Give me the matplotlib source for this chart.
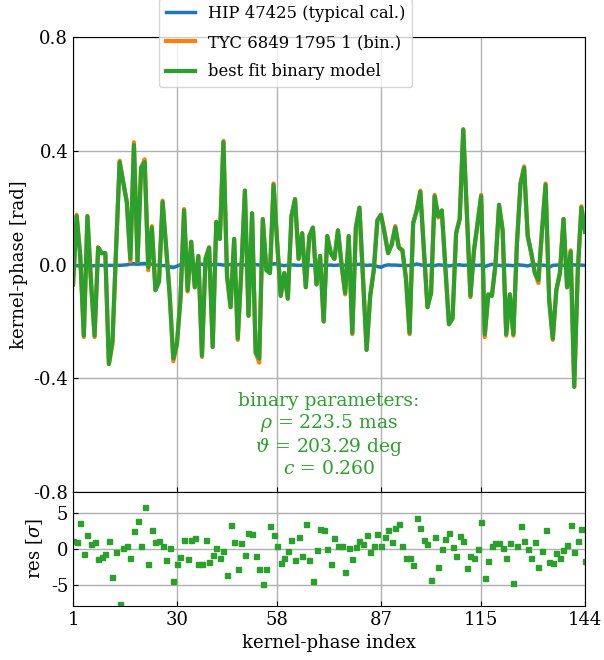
"""
Kernel-phase signal of a binary vs. a typical calibrator,
with the best fit binary model and its residuals
"""
import numpy as np
import matplotlib
matplotlib.use("Agg")
import matplotlib.pyplot as plt

plt.rcParams["font.family"] = "DejaVu Serif"
plt.rcParams["mathtext.fontset"] = "dejavuserif"
plt.rcParams["axes.unicode_minus"] = False
plt.rcParams["font.size"] = 13

# calibrator kernel phases [rad]
kp_cal = [
    0.000, -0.004, -0.005, -0.004, -0.004, -0.005, -0.004, -0.003, -0.003, -0.004, -0.003, -0.003,
    -0.002, -0.003, -0.002, -0.001, 0.002, 0.003, 0.001, 0.003, 0.004, -0.001, 0.002, -0.003,
    -0.002, -0.004, -0.003, -0.008, -0.011, -0.006, 0.000, 0.001, 0.000, -0.002, -0.001, 0.002,
    0.001, -0.002, 0.000, -0.001, 0.001, 0.000, -0.002, -0.001, 0.000, -0.002, -0.001, 0.000,
    -0.002, -0.001, 0.000, 0.000, -0.002, -0.001, -0.001, 0.000, 0.003, 0.002, -0.002, -0.004,
    -0.002, -0.001, -0.002, -0.003, -0.002, 0.000, -0.002, -0.003, -0.001, -0.002, -0.003, -0.002,
    -0.002, -0.003, -0.002, -0.001, -0.003, -0.002, -0.001, 0.000, 0.001, -0.001, -0.003, -0.002,
    -0.003, -0.007, -0.010, -0.004, -0.001, -0.002, -0.002, -0.003, -0.003, -0.004, -0.003, -0.002,
    0.002, -0.001, -0.003, -0.003, -0.002, -0.004, -0.001, -0.002, -0.003, -0.005, -0.003, -0.002,
    -0.001, -0.003, -0.002, -0.003, -0.002, -0.003, -0.002, -0.007, -0.003, 0.001, -0.002, -0.003,
    -0.004, -0.002, -0.003, -0.004, 0.000, -0.002, -0.003, -0.005, -0.001, 0.001, -0.004, -0.002,
    -0.003, -0.010, -0.003, -0.002, -0.001, -0.003, -0.004, -0.002, -0.001, -0.003, -0.002, -0.003,
]

# binary target kernel phases [rad]
kp_bin = [
    -0.07, 0.175, 0.03, -0.255, 0.17, -0.06, -0.255, 0.06, 0.04, 0.04, -0.35, -0.28,
    0.05, 0.365, 0.29, 0.22, 0.01, 0.43, 0.01, 0.34, 0.37, -0.02, 0.135, -0.09,
    -0.06, 0.225, 0.06, -0.11, -0.34, -0.28, -0.12, 0.195, -0.095, 0.08, -0.08, 0.03,
    -0.325, 0.02, 0.06, -0.29, 0.15, 0.09, 0.435, -0.04, -0.15, 0.09, -0.265, -0.02,
    0.26, -0.18, 0.18, -0.31, -0.345, 0.16, -0.02, -0.03, 0.285, 0.08, -0.11, -0.03,
    -0.12, 0.17, 0.23, 0.02, 0.11, -0.08, 0.10, 0.13, -0.07, 0.03, -0.20, 0.10,
    0.04, 0.02, 0.12, 0.00, -0.105, 0.10, -0.245, 0.13, 0.20, -0.05, -0.30, -0.11,
    -0.02, 0.155, 0.175, 0.115, 0.04, 0.07, 0.135, 0.06, 0.05, -0.05, -0.245, 0.145,
    0.19, 0.26, 0.05, -0.15, -0.10, 0.245, 0.165, 0.19, -0.01, -0.21, -0.19, 0.11,
    0.16, 0.475, 0.18, -0.115, 0.05, 0.145, 0.245, -0.255, -0.105, -0.11, 0.00, 0.21,
    0.12, -0.25, -0.105, -0.25, 0.075, 0.285, 0.345, 0.10, 0.04, -0.03, -0.065, 0.12,
    0.285, -0.125, -0.265, -0.09, -0.03, 0.16, -0.08, 0.05, -0.43, -0.02, 0.205, 0.115,
]

# best fit binary model [rad]
kp_model = [
    -0.07, 0.17, 0.03, -0.25, 0.17, -0.06, -0.25, 0.06, 0.04, 0.04, -0.35, -0.27,
    0.05, 0.36, 0.29, 0.22, 0.02, 0.42, 0.01, 0.34, 0.36, -0.01, 0.13, -0.09,
    -0.06, 0.22, 0.06, -0.11, -0.33, -0.28, -0.12, 0.19, -0.09, 0.08, -0.08, 0.03,
    -0.32, 0.02, 0.06, -0.29, 0.15, 0.09, 0.43, -0.04, -0.15, 0.09, -0.26, -0.02,
    0.26, -0.18, 0.18, -0.31, -0.33, 0.16, -0.02, -0.03, 0.28, 0.08, -0.11, -0.03,
    -0.12, 0.17, 0.23, 0.02, 0.11, -0.08, 0.10, 0.13, -0.07, 0.03, -0.20, 0.10,
    0.04, 0.02, 0.12, 0.00, -0.10, 0.10, -0.24, 0.13, 0.20, -0.05, -0.30, -0.11,
    -0.02, 0.155, 0.175, 0.11, 0.04, 0.07, 0.13, 0.06, 0.05, -0.05, -0.24, 0.145,
    0.19, 0.255, 0.05, -0.15, -0.10, 0.24, 0.17, 0.19, -0.01, -0.21, -0.19, 0.11,
    0.16, 0.475, 0.18, -0.11, 0.05, 0.145, 0.24, -0.245, -0.105, -0.11, 0.00, 0.21,
    0.12, -0.245, -0.105, -0.245, 0.075, 0.285, 0.34, 0.10, 0.04, -0.03, -0.055, 0.12,
    0.28, -0.125, -0.26, -0.09, -0.03, 0.16, -0.08, 0.045, -0.43, -0.02, 0.20, 0.115,
]

# fit residuals [sigma]
residuals = [
    1.1, 1.05, 3.7, -0.67, 2.0, 0.76, 0.95, -1.43, -1.14, -0.67, 1.1, -4.0,
    -0.43, -7.7, 0.1, 0.48, -1.24, 2.5, 4.0, 0.43, 5.86, -2.05, 2.6, 0.95,
    1.1, 0.48, -1.6, 0.2, -4.5, -2.1, -1.1, 1.24, -1.4, 1.3, 1.5, -2.05,
    -2.1, 1.3, -1.9, -0.8, 0.14, -1.33, -0.33, -3.6, 3.33, 1.05, -2.86, 0.9,
    -0.8, 2.3, 2.14, -1.05, -2.76, -4.86, -2.76, 3.3, 1.9, 0.43, -1.95, -1.33,
    -0.33, 1.33, -1.57, 1.7, -0.95, 3.5, -1.5, -4.5, -0.14, 2.86, 2.6, 0.0,
    -2.1, 1.48, 0.38, 0.48, -3.2, 0.14, -1.38, 0.33, 1.1, 0.71, 1.9, -0.38,
    0.48, 2.1, 0.38, 1.7, 2.67, 1.0, 2.9, 3.57, 0.38, -1.29, -1.2, -2.3,
    4.33, 2.95, 1.24, 0.67, -4.4, 1.67, -2.6, 0.05, 1.38, 2.2, 0.33, -1.05,
    1.86, 1.1, -2.67, -0.95, -1.29, -0.05, 3.86, -4.14, -1.7, 0.43, 0.8, 0.9,
    0.14, -1.24, 0.86, -4.8, 0.38, 3.24, 1.1, 0.05, -1.33, 1.05, -2.6, -0.24,
    2.67, -1.86, -1.95, -0.62, -1.33, -0.14, 0.62, 3.43, -0.38, 1.14, 2.86, -1.7,
]

x_ticks = [1, 30, 58, 87, 115, 144]
labels = ["HIP 47425 (typical cal.)", "TYC 6849 1795 1 (bin.)", "best fit binary model"]
fit_text = "binary parameters:\n$\\rho$ = 223.5 mas\n$\\vartheta$ = 203.29 deg\n$c$ = 0.260"

idx = np.arange(1, len(kp_bin) + 1)

fig, (ax, axr) = plt.subplots(
    2, 1, figsize=(6.04, 6.6), dpi=100, sharex=True,
    gridspec_kw={"height_ratios": [4, 1], "hspace": 0.0},
)
fig.subplots_adjust(left=0.121, right=0.9685, top=0.944, bottom=0.082)

ax.plot(idx, kp_cal, color="#1f77b4", lw=2.5, label=labels[0])
ax.plot(idx, kp_bin, color="#ff7f0e", lw=3, label=labels[1])
ax.plot(idx, kp_model, color="#2ca02c", lw=3, label=labels[2])

ax.set_ylim(-0.8, 0.8)
ax.set_yticks([-0.8, -0.4, 0.0, 0.4, 0.8])
ax.set_yticklabels(["-0.8", "-0.4", "0.0", "0.4", "0.8"])
ax.set_ylabel("kernel-phase [rad]")
ax.grid(True, color="#b0b0b0", lw=1)
ax.tick_params(direction="in", labelbottom=False)
ax.text(0.5, 0.125, fit_text, transform=ax.transAxes, ha="center", va="center",
        color="#2ca02c", fontsize=13.5, linespacing=1.12)
ax.legend(loc="lower center", bbox_to_anchor=(0.415, 0.872), fontsize=11.8,
          handlelength=1.8, labelspacing=0.75, framealpha=0.8)

axr.plot(idx, residuals, "s", color="#2ca02c", ms=3.6)
axr.set_ylim(-8, 8)
axr.set_yticks([-5, 0, 5])
axr.set_ylabel("res [$\\sigma$]")
axr.set_xlim(1, 144)
axr.set_xticks(x_ticks)
axr.set_xlabel("kernel-phase index")
axr.grid(True, color="#b0b0b0", lw=1)
axr.tick_params(direction="in")

fig.savefig("out.png", dpi=100)
